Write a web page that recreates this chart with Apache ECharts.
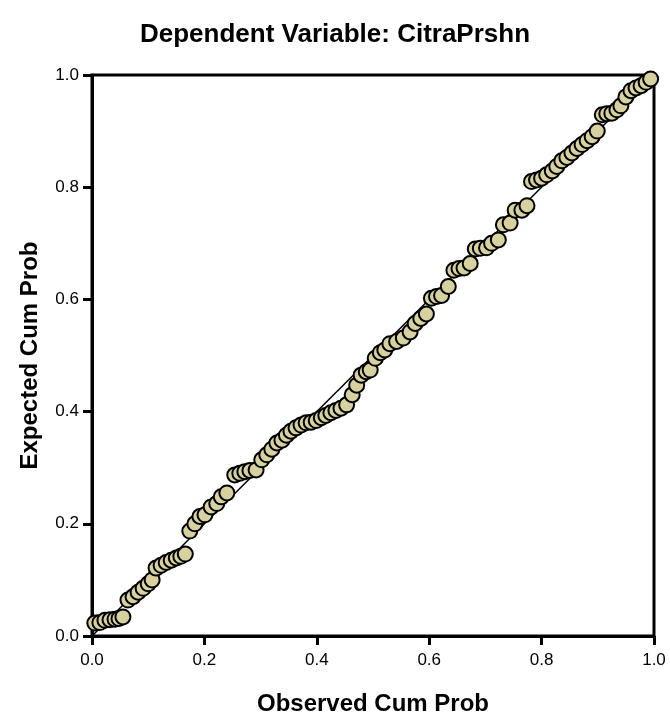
<!DOCTYPE html>
<html>
<head>
<meta charset="utf-8">
<script src="https://cdn.jsdelivr.net/npm/echarts@6/dist/echarts.min.js"></script>
<style>html,body{margin:0;padding:0;background:#fff}#c{width:670px;height:717px}</style>
</head>
<body>
<div id="c"></div>
<script>
var titleText = 'Dependent Variable: CitraPrshn';
var xName = 'Observed Cum Prob';
var yName = 'Expected Cum Prob';
var tickValues = [0, 0.2, 0.4, 0.6, 0.8, 1.0];

var observed = [0.005,0.014,0.023,0.032,0.041,0.048,0.055,0.064,0.073,0.082,0.091,0.100,0.107,0.114,0.123,0.132,0.141,0.150,0.158,0.166,0.174,0.183,0.192,0.201,0.212,0.222,0.230,0.240,0.254,0.263,0.272,0.281,0.292,0.302,0.311,0.320,0.329,0.338,0.346,0.354,0.363,0.372,0.381,0.390,0.399,0.408,0.416,0.425,0.434,0.443,0.453,0.463,0.471,0.479,0.488,0.495,0.504,0.513,0.521,0.530,0.542,0.554,0.566,0.575,0.585,0.595,0.604,0.613,0.622,0.634,0.644,0.653,0.662,0.673,0.682,0.691,0.702,0.711,0.723,0.732,0.744,0.753,0.765,0.774,0.782,0.791,0.800,0.809,0.819,0.827,0.836,0.845,0.854,0.863,0.872,0.881,0.890,0.899,0.908,0.916,0.925,0.934,0.941,0.950,0.959,0.968,0.977,0.986,0.994];

var expected = [0.023,0.024,0.028,0.029,0.030,0.031,0.034,0.064,0.070,0.078,0.085,0.093,0.100,0.121,0.126,0.131,0.135,0.139,0.142,0.146,0.187,0.200,0.213,0.216,0.230,0.236,0.248,0.255,0.287,0.290,0.293,0.295,0.296,0.314,0.323,0.333,0.344,0.349,0.358,0.365,0.371,0.376,0.380,0.381,0.384,0.389,0.393,0.398,0.402,0.406,0.412,0.430,0.447,0.465,0.471,0.474,0.495,0.505,0.510,0.521,0.525,0.531,0.542,0.557,0.566,0.574,0.602,0.605,0.607,0.623,0.652,0.655,0.656,0.664,0.690,0.691,0.692,0.700,0.706,0.733,0.736,0.759,0.759,0.767,0.810,0.813,0.816,0.822,0.829,0.837,0.847,0.853,0.861,0.869,0.876,0.883,0.890,0.900,0.929,0.931,0.932,0.938,0.945,0.961,0.972,0.977,0.981,0.987,0.993];

var refLine = [[0, 0], [1, 1]];

var pts = observed.map(function (v, i) { return [v, expected[i]]; });

var chart = echarts.init(document.getElementById('c'), null, {renderer: 'canvas'});
var font = 'Liberation Sans, Arial, Helvetica, sans-serif';
function axisCommon(name, gap) {
  return {
    type: 'value', min: 0, max: 1, interval: 0.2,
    name: name, nameLocation: 'middle', nameGap: gap,
    nameTextStyle: {fontFamily: font, fontSize: 24, fontWeight: 'bold', color: '#000'},
    axisLine: {show: true, onZero: false, lineStyle: {color: '#000', width: 3}},
    axisTick: {show: true, length: 9, lineStyle: {color: '#000', width: 3}},
    axisLabel: {fontFamily: font, fontSize: 17, color: '#000', margin: 13,
      formatter: function (v) { return v.toFixed(1); }},
    splitLine: {show: false}
  };
}
var xa = axisCommon(xName, 56);
xa.axisLabel.margin = 16;
var ya = axisCommon(yName, 50);
chart.setOption({
  animation: false,
  backgroundColor: '#fff',
  title: {text: titleText, left: 'center', top: 17,
    textStyle: {fontFamily: font, fontSize: 26, fontWeight: 'bold', color: '#000'}},
  grid: {left: 92, right: 16, top: 75, bottom: 81, show: true, borderColor: '#000', borderWidth: 3,
    containLabel: false, outerBoundsMode: 'none'},
  xAxis: xa,
  yAxis: ya,
  series: [
    {type: 'line', data: refLine, symbol: 'none', z: 1,
      lineStyle: {color: '#000', width: 1.5}, silent: true},
    {type: 'scatter', data: pts, symbol: 'circle', symbolSize: 15, z: 2,
      itemStyle: {color: '#d6d19e', borderColor: '#000', borderWidth: 2, opacity: 1}}
  ]
});
</script>
</body>
</html>
